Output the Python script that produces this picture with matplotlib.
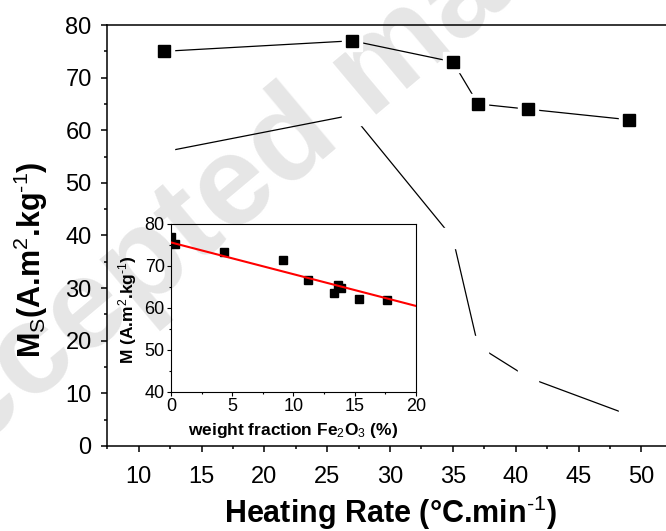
import matplotlib

matplotlib.use("Agg")
import matplotlib.pyplot as plt
from matplotlib.ticker import MultipleLocator

plt.rcParams["font.family"] = ["Liberation Sans", "DejaVu Sans"]
plt.rcParams["mathtext.fontset"] = "custom"
plt.rcParams["mathtext.rm"] = "Liberation Sans"
plt.rcParams["mathtext.bf"] = "Liberation Sans:bold"
plt.rcParams["mathtext.it"] = "Liberation Sans:italic"

# main panel: saturation magnetisation vs heating rate
rate = [12, 27, 35, 37, 41, 49]
ms = [75, 77, 73, 65, 64, 62]
ms_second = [55.9, 62.9, 39.5, 19.0, 13.0, 5.9]

# inset: M vs weight fraction of Fe2O3
frac = [0, 0.3, 4.37, 9.15, 11.17, 13.36, 13.66, 13.88, 15.38, 17.62]
m_inset = [76.8, 75.2, 73.4, 71.4, 66.6, 63.5, 65.5, 64.8, 62.2, 61.8]
fit_x = [0, 20]
fit_y = [75.6, 60.5]

fig = plt.figure(figsize=(6.66, 5.31), dpi=100)

# watermark
fig.text(-0.146, 0.036, "Accepted manuscript", fontsize=92, fontweight="bold",
         color="#e6e6e6", rotation=40, rotation_mode="anchor",
         ha="left", va="baseline", zorder=-5)

ax = fig.add_axes([0.1611, 0.1601, 0.8397, 0.7928])
ax.set_facecolor("none")
ax.plot(rate, ms_second, color="black", lw=0.9, zorder=2)
ax.plot(rate, ms_second, ls="none", marker="s", ms=14, mfc="white", mec="white", zorder=3)
ax.plot(rate, ms, color="black", lw=0.9, zorder=2)
ax.plot(rate, ms, ls="none", marker="s", ms=14, mfc="white", mec="white", zorder=3)
ax.plot(rate, ms, ls="none", marker="s", ms=8.6, mfc="black", mec="black", zorder=4)

ax.set_xlim(7.5, 52)
ax.set_ylim(0, 80)
ax.xaxis.set_major_locator(MultipleLocator(5))
ax.xaxis.set_minor_locator(MultipleLocator(2.5))
ax.yaxis.set_major_locator(MultipleLocator(10))
ax.yaxis.set_minor_locator(MultipleLocator(5))
ax.tick_params(which="both", direction="out", top=False, right=False, width=1.1, labelsize=17)
ax.tick_params(axis="x", which="major", length=4.2, pad=10)
ax.tick_params(axis="y", which="major", length=4.2, pad=7)
ax.tick_params(which="minor", length=2.2)
for s in ax.spines.values():
    s.set_linewidth(1.1)

fig.text(390 / 666, 8 / 531, r"Heating Rate (°C.min$^{\text{-1}}$)", fontsize=22,
         fontweight="bold", ha="center", va="baseline")
fig.text(31 / 666, 1 - 260 / 531, r"M$_{\mathrm{S}}$(A.m$^{\mathrm{2}}$.kg$^{\text{-1}}$)",
         fontsize=22, fontweight="bold", rotation=90, ha="center", va="center")

# inset
ins = fig.add_axes([0.2568, 0.2618, 0.3674, 0.3164])
ins.set_facecolor("none")
ins.plot(frac, m_inset, ls="none", marker="s", ms=6, color="black", zorder=3)
ins.plot(fit_x, fit_y, color="red", lw=1.5, zorder=4)
ins.set_xlim(0, 20)
ins.set_ylim(40, 80)
ins.xaxis.set_major_locator(MultipleLocator(5))
ins.xaxis.set_minor_locator(MultipleLocator(2.5))
ins.yaxis.set_major_locator(MultipleLocator(10))
ins.yaxis.set_minor_locator(MultipleLocator(5))
ins.tick_params(which="both", direction="out", top=False, right=False, width=0.8,
                labelsize=13, pad=1.5)
ins.tick_params(which="major", length=3)
ins.tick_params(which="minor", length=1.6)
for s in ins.spines.values():
    s.set_linewidth(0.8)

fig.text(293.5 / 666, 1 - 435 / 531, r"weight fraction Fe$_{\mathrm{2}}$O$_{\mathrm{3}}$ (%)",
         fontsize=12.5, fontweight="bold", ha="center", va="baseline")
fig.text(128 / 666, 1 - 310 / 531, r"M (A.m$^{\mathrm{2}}$.kg$^{\text{-1}}$)",
         fontsize=12.5, fontweight="bold", rotation=90, ha="center", va="center")

fig.savefig("out.png", dpi=100)
